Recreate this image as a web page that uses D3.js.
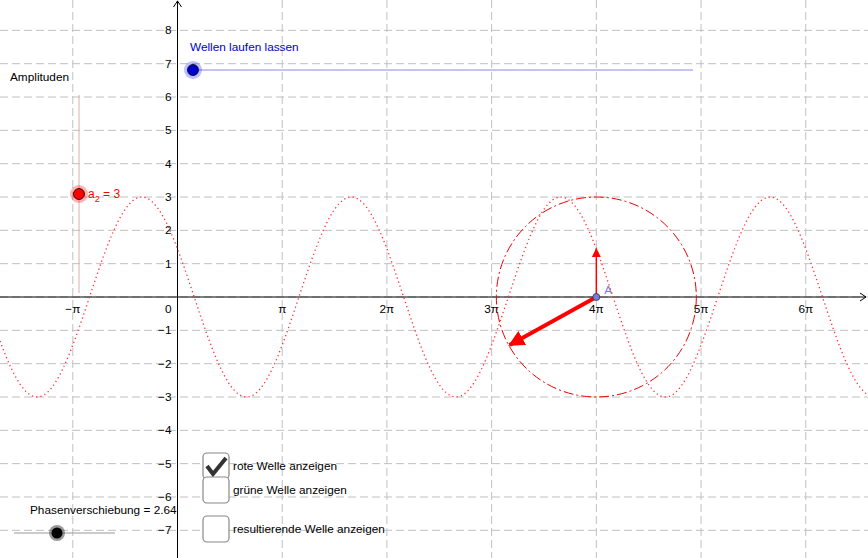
<!DOCTYPE html>
<html lang="de">
<head>
<meta charset="UTF-8">
<title>Wellen</title>
<script src="https://d3js.org/d3.v7.min.js"></script>
<style>
  body { margin:0; background:#fff; }
  text { font-family: 'Liberation Sans', Arial, sans-serif; font-size:11.8px; }
</style>
</head>
<body>
<script>
// data
var amplitude = 3;
var phase = 2.64;
var centerX = 4 * Math.PI;           // Punkt A
var vecEnd = [-2.6, -1.44];          // rotierender Zeiger (relativ zu A)
var yTicks = [-7,-6,-5,-4,-3,-2,-1,1,2,3,4,5,6,7,8];
var xTicks = [-1,1,2,3,4,5,6];       // Vielfache von pi
var xTickLabels = ["\u2212\u03c0","\u03c0","2\u03c0","3\u03c0","4\u03c0","5\u03c0","6\u03c0"];
var checkboxes = [
  {label:"rote Welle anzeigen", checked:true, y:453},
  {label:"gr\u00fcne Welle anzeigen", checked:false, y:477},
  {label:"resultierende Welle anzeigen", checked:false, y:516}
];

var W = 868, H = 558;
var svg = d3.select("body").append("svg").attr("width", W).attr("height", H);
var u = 33.33;
var x = d3.scaleLinear().domain([0,1]).range([177.5, 177.5+u]);
var y = d3.scaleLinear().domain([0,1]).range([297, 297-u]);

var defs = svg.append("defs");
defs.append("marker").attr("id","ah").attr("viewBox","0 0 10 10").attr("refX",9).attr("refY",5)
  .attr("markerWidth",4).attr("markerHeight",4).attr("orient","auto")
  .append("path").attr("d","M0,0L10,5L0,10z").attr("fill","#f00");
defs.append("marker").attr("id","ah2").attr("viewBox","0 0 10 10").attr("refX",9).attr("refY",5)
  .attr("markerWidth",6).attr("markerHeight",6).attr("orient","auto")
  .append("path").attr("d","M0,0L10,5L0,10z").attr("fill","#f00");

// grid
var grid = svg.append("g").attr("stroke","#c0c0c0").attr("stroke-dasharray","8,4").attr("stroke-width",1);
d3.range(-8, 10).forEach(function(k){
  grid.append("line").attr("x1",0).attr("x2",W).attr("y1",y(k)).attr("y2",y(k));
});
d3.range(-2, 8).forEach(function(k){
  grid.append("line").attr("y1",0).attr("y2",H).attr("x1",x(k*Math.PI)).attr("x2",x(k*Math.PI));
});

// axes
svg.append("line").attr("x1",0).attr("x2",W-2).attr("y1",y(0)).attr("y2",y(0)).attr("stroke","#000");
svg.append("path").attr("d","M"+(W-8)+","+(y(0)-4)+"L"+(W-2)+","+y(0)+"L"+(W-8)+","+(y(0)+4)).attr("fill","none").attr("stroke","#000");
svg.append("line").attr("x1",x(0)).attr("x2",x(0)).attr("y1",1).attr("y2",H).attr("stroke","#000");
svg.append("path").attr("d","M"+(x(0)-4)+",7L"+x(0)+",1L"+(x(0)+4)+",7").attr("fill","none").attr("stroke","#000");

yTicks.forEach(function(t){
  svg.append("text").attr("x",x(0)-6).attr("y",y(t)+4).attr("text-anchor","end").text(t<0?"\u2212"+(-t):t);
});
xTicks.forEach(function(t,i){
  svg.append("text").attr("x",x(t*Math.PI)).attr("y",y(0)+16).attr("text-anchor","middle").text(xTickLabels[i]);
});
svg.append("text").attr("x",x(0)-6).attr("y",y(0)+16).attr("text-anchor","end").text("0");

// red wave
var xs = d3.range(x.invert(0), x.invert(W), 0.02);
var line = d3.line().x(function(d){return x(d);}).y(function(d){return y(amplitude*Math.sin(d+phase));});
svg.append("path").datum(xs).attr("d",line).attr("fill","none").attr("stroke","#f33")
  .attr("stroke-width",1.3).attr("stroke-dasharray","1.3,3");

// circle
svg.append("circle").attr("cx",x(centerX)).attr("cy",y(0)).attr("r",x(amplitude)-x(0))
  .attr("fill","none").attr("stroke","#e00").attr("stroke-dasharray","10,3,2,3");

// vectors
svg.append("line").attr("x1",x(centerX)).attr("y1",y(0)).attr("x2",x(centerX)).attr("y2",y(amplitude*Math.sin(centerX+phase)))
  .attr("stroke","#f00").attr("stroke-width",1.5).attr("marker-end","url(#ah2)");
svg.append("line").attr("x1",x(centerX)).attr("y1",y(0)).attr("x2",x(centerX+vecEnd[0])).attr("y2",y(vecEnd[1]))
  .attr("stroke","#f00").attr("stroke-width",4).attr("marker-end","url(#ah)");
svg.append("circle").attr("cx",x(centerX)).attr("cy",y(0)).attr("r",3.5).attr("fill","#7a7ae0").attr("stroke","#333").attr("stroke-width",0.8);
svg.append("text").attr("x",x(centerX)+8).attr("y",y(0)-3).attr("fill","#7a7ae0").text("A");

// slider Wellen laufen lassen
svg.append("text").attr("x",190).attr("y",51).attr("fill","#00c").text("Wellen laufen lassen");
svg.append("line").attr("x1",193).attr("x2",693).attr("y1",70).attr("y2",70).attr("stroke","#8888ee");
svg.append("circle").attr("cx",193).attr("cy",70).attr("r",9).attr("fill","#00f").attr("opacity",0.25);
svg.append("circle").attr("cx",193).attr("cy",70).attr("r",5.5).attr("fill","#00c").attr("stroke","#000").attr("stroke-width",0.8);

// Amplituden slider
svg.append("text").attr("x",10).attr("y",81).attr("fill","#000").text("Amplituden");
svg.append("line").attr("x1",79).attr("x2",79).attr("y1",95).attr("y2",293).attr("stroke","#d8b0b0");
svg.append("circle").attr("cx",79).attr("cy",y(amplitude)-3).attr("r",9).attr("fill","#f00").attr("opacity",0.3);
svg.append("circle").attr("cx",79).attr("cy",y(amplitude)-3).attr("r",5.5).attr("fill","#f00").attr("stroke","#000").attr("stroke-width",0.8);
var at = svg.append("text").attr("x",88).attr("y",y(amplitude)+1).attr("fill","#f00").style("font-size","12px");
at.append("tspan").text("a");
at.append("tspan").attr("dy",4).style("font-size","9px").text("2");
at.append("tspan").attr("dy",-4).text(" = " + amplitude);

// checkboxes
checkboxes.forEach(function(c){
  svg.append("rect").attr("x",203).attr("y",c.y).attr("width",26).attr("height",26).attr("rx",4)
    .attr("fill","#fff").attr("stroke","#888").attr("stroke-width",1.2);
  if (c.checked) svg.append("path").attr("d","M"+207+","+(c.y+13)+"L"+213+","+(c.y+21)+"L"+226+","+(c.y+5))
    .attr("fill","none").attr("stroke","#333").attr("stroke-width",4);
  svg.append("text").attr("x",233).attr("y",c.y+17).text(c.label);
});

// Phasenverschiebung slider
svg.append("text").attr("x",30).attr("y",514).text("Phasenverschiebung = " + phase);
svg.append("line").attr("x1",14).attr("x2",115).attr("y1",533).attr("y2",533).attr("stroke","#999");
svg.append("circle").attr("cx",57).attr("cy",533).attr("r",8).attr("fill","#555").attr("opacity",0.6);
svg.append("circle").attr("cx",57).attr("cy",533).attr("r",5.5).attr("fill","#000");
</script>
</body>
</html>
